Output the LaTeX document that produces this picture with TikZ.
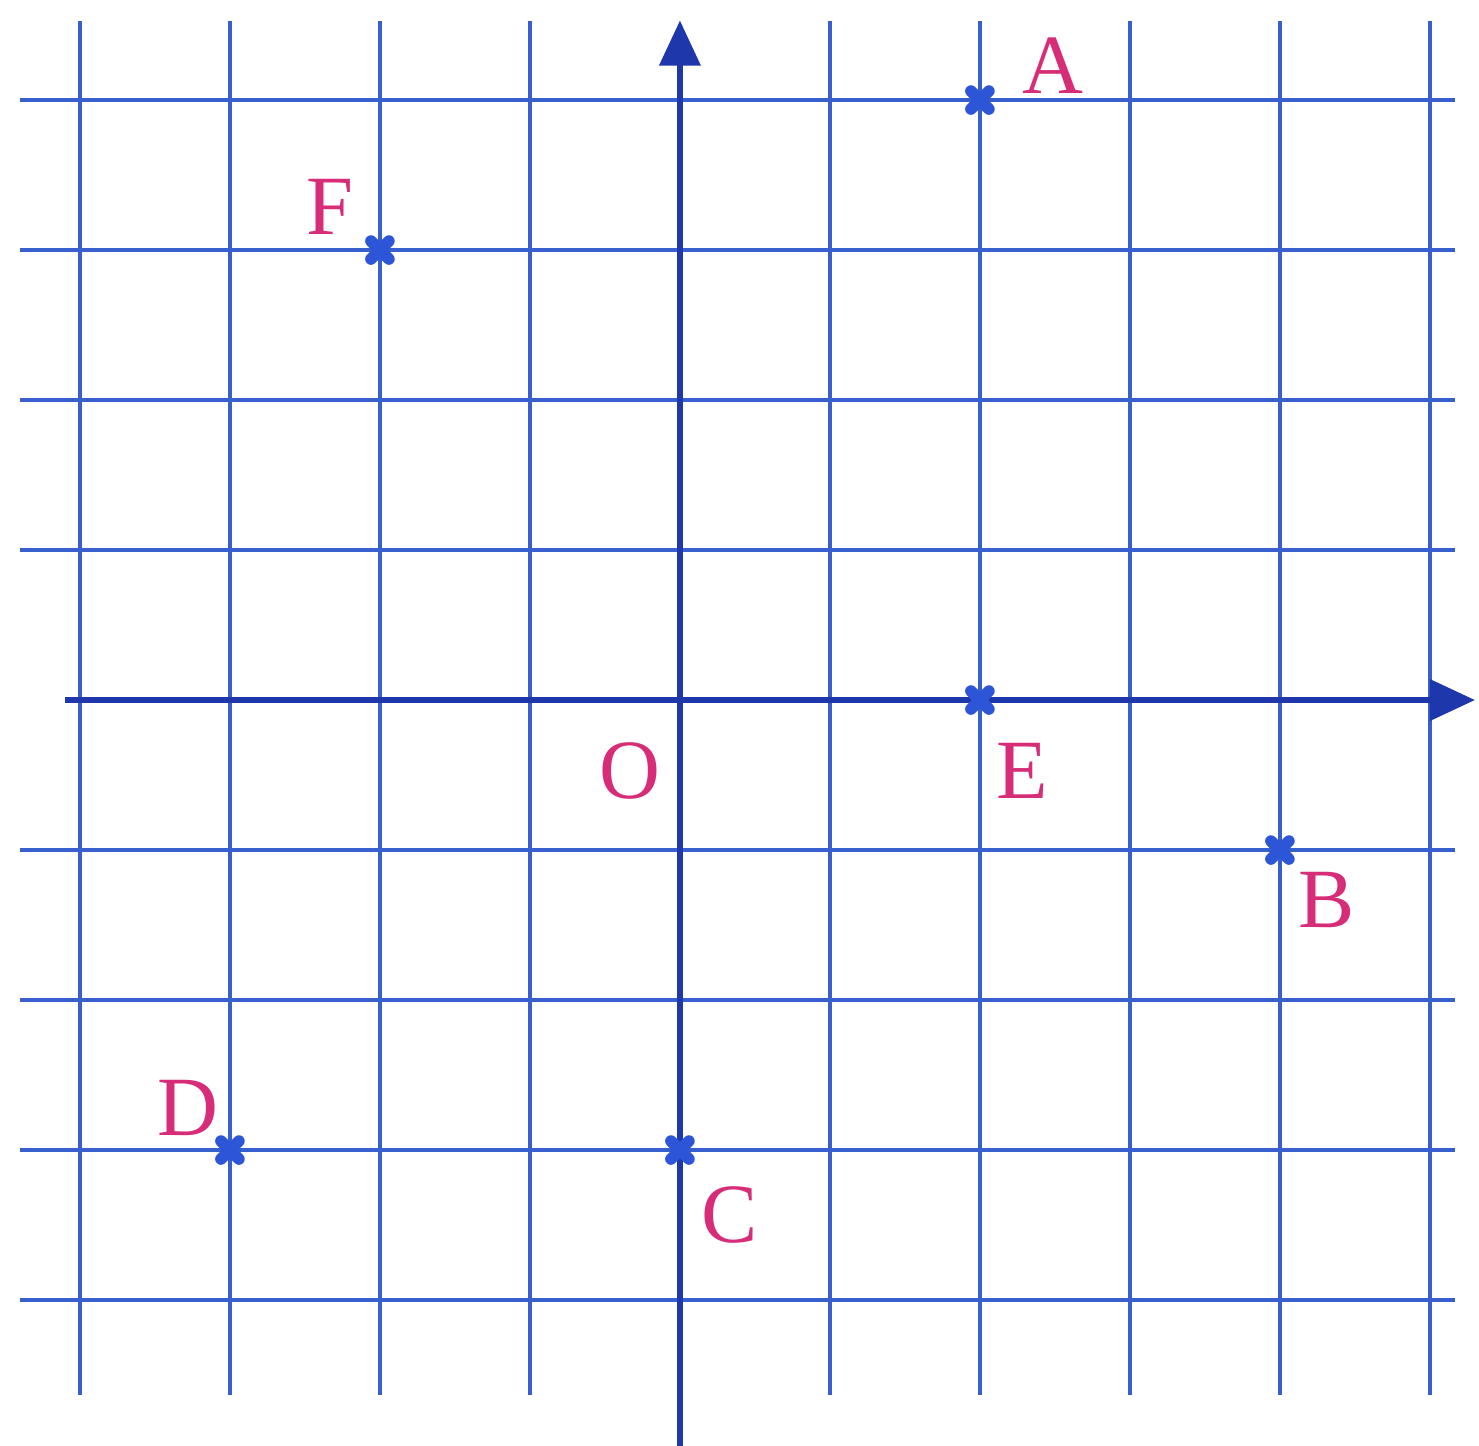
\documentclass[tikz,border=0pt]{standalone}
\usepackage{fontspec}
\setmainfont{Liberation Serif}
\usepackage{xcolor}
\usetikzlibrary{arrows.meta}
\definecolor{gridblue}{RGB}{55,95,205}
\definecolor{axisblue}{RGB}{30,55,170}
\definecolor{ptblue}{RGB}{45,85,215}
\definecolor{labelpink}{RGB}{215,45,120}
\begin{document}
\begin{tikzpicture}[scale = 1]
		\tikzset{gridline/.style={gridblue, line width=0.6pt},
			axisline/.style={axisblue, line width=1pt, -{Triangle[length=3mm, width=2.7mm]}},
			ptlabel/.style={labelpink, font=\fontsize{16}{18}\selectfont, inner sep=0pt},
			ptcross/.style={ptblue, line width=2.2pt, line cap=round}};
		\useasboundingbox (-4.533,-4.973) rectangle (5.327,4.667);
		% grid
		\foreach \x in {-4,...,-1,1,2,3,4,5}
			\draw[gridline] (\x,-4.63) -- (\x,4.53);
		\foreach \y in {-4,...,-1,1,2,3,4}
			\draw[gridline] (-4.4,\y) -- (5.17,\y);
		% axes
		\coordinate (xstart) at (-4.1,0);
		\coordinate (xend) at (5.3,0);
		\coordinate (ystart) at (0,-4.97);
		\coordinate (yend) at (0,4.53);
		\draw[axisline] (xstart) -- (xend);
		\draw[axisline] (ystart) -- (yend);
		% points
		\coordinate (O) at (0,0);
		\coordinate (A) at (2,4);
		\coordinate (B) at (4,-1);
		\coordinate (C) at (0,-3);
		\coordinate (D) at (-3,-3);
		\coordinate (E) at (2,0);
		\coordinate (F) at (-2,3);
		\foreach \p in {A,B,C,D,E,F}
			\draw[ptcross] ([shift={(-0.06,-0.06)}]\p) -- ([shift={(0.06,0.06)}]\p)
				([shift={(-0.06,0.06)}]\p) -- ([shift={(0.06,-0.06)}]\p);
		\node[ptlabel] (lA) at ([shift={(0.49,0.23)}]A) {A};
		\node[ptlabel] (lB) at ([shift={(0.31,-0.33)}]B) {B};
		\node[ptlabel] (lC) at ([shift={(0.33,-0.43)}]C) {C};
		\node[ptlabel] (lD) at ([shift={(-0.28,0.28)}]D) {D};
		\node[ptlabel] (lE) at ([shift={(0.28,-0.47)}]E) {E};
		\node[ptlabel] (lF) at ([shift={(-0.33,0.29)}]F) {F};
		\node[ptlabel] (lO) at ([shift={(-0.33,-0.47)}]O) {O};
	\end{tikzpicture}
\end{document}
